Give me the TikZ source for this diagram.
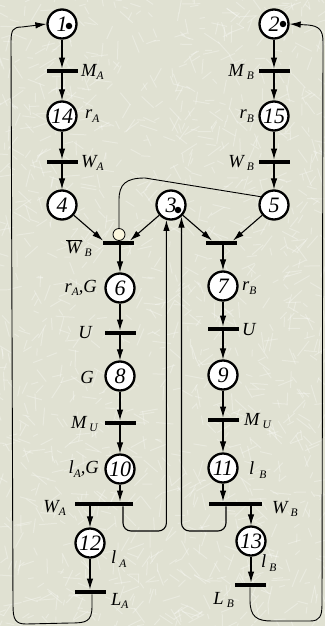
\documentclass[tikz,border=0pt]{standalone}
\usepackage{fontspec}
\setmainfont{Liberation Serif}
\usetikzlibrary{arrows.meta,calc}

\definecolor{paper}{RGB}{224,225,210}
\definecolor{cream}{RGB}{250,246,222}

\tikzset{
  place/.style={circle,draw,line width=2.3pt,fill=white,minimum size=29pt,inner sep=0pt,
                font=\fontsize{22}{22}\selectfont\itshape},
  token/.style={circle,fill=black,minimum size=6.5pt,inner sep=0pt},
  bar/.style={rectangle,fill=black,minimum height=4.5pt,minimum width=31pt,inner sep=0pt},
  arr/.style={-{Latex[length=11pt,width=6.5pt]},line width=1.1pt},
  loopline/.style={-{Latex[length=11pt,width=6.5pt]},line width=0.9pt},
  link/.style={line width=0.9pt},
  lbl/.style={font=\fontsize{18.5}{18.5}\selectfont\itshape,inner sep=0pt},
  inhib/.style={circle,draw,line width=0.8pt,fill=cream,minimum size=12pt,inner sep=0pt},
}
\newcommand\sbs[1]{\raisebox{-0.4ex}{\fontsize{11.5}{11.5}\selectfont #1}}

\begin{document}
\begin{tikzpicture}[x=1pt,y=-1pt]
% paper background with light streaks
\fill[paper] (0,0) rectangle (325,626);
\useasboundingbox (0,0) rectangle (325,626);
\begin{scope}
  \clip (0,0) rectangle (325,626);
  \pgfmathsetseed{17}
  \foreach \i in {1,...,1500}{
    \pgfmathsetmacro\xa{rnd*345-10}
    \pgfmathsetmacro\ya{rnd*646-10}
    \pgfmathsetmacro\an{rnd*360}
    \pgfmathsetmacro\ln{5+rnd*14}
    \draw[white,opacity=0.3,line width=1pt] (\xa,\ya) -- ++(\an:\ln);
  }
\end{scope}

% places
\node[place] (p1)  at (62,24)   {1\hspace{7pt}};
\node[place] (p2)  at (274,24)  {2\hspace{7pt}};
\node[place] (p14) at (62,116)  {14};
\node[place] (p15) at (274,116) {15};
\node[place] (p4)  at (62,205)  {4};
\node[place] (p3)  at (171,205) {3\hspace{6pt}};
\node[place] (p5)  at (274,205) {5};
\node[place] (p6)  at (120,288) {6};
\node[place] (p7)  at (223,286) {7};
\node[place] (p8)  at (120,376) {8};
\node[place] (p9)  at (223,375) {9};
\node[place] (p10) at (120,469) {10};
\node[place] (p11) at (223,468) {11};
\node[place] (p12) at (90,543)  {12};
\node[place] (p13) at (251,541) {13};

% tokens
\node[token] (k1) at (69,26)  {};
\node[token] (k2) at (283,24) {};
\node[token] (k3) at (178,210) {};

% transitions
\node[bar] (tMA)  at (62,71)   {};
\node[bar] (tWA)  at (62,162)  {};
\node[bar] (tMB)  at (274,71)  {};
\node[bar] (tWB)  at (274,162) {};
\node[bar] (tI)   at (118,243) {};
\node[bar] (tR)   at (221,243) {};
\node[bar] (tUL)  at (120,333) {};
\node[bar] (tUR)  at (223,329) {};
\node[bar] (tMUL) at (120,423) {};
\node[bar] (tMUR) at (223,420) {};
\node[bar,minimum width=58pt] (tWAb) at (104,504) {};
\node[bar,minimum width=53pt] (tWBb) at (235.5,504) {};
\node[bar] (tLA)  at (90,592)  {};
\node[bar] (tLB)  at (250,585) {};

% inhibitor circle
\node[inhib] (inh) at (119,234.5) {};

% left column
\draw[arr] (p1) -- (tMA.north);
\draw[arr] (tMA.south) -- (p14);
\draw[arr] (p14) -- (tWA.north);
\draw[arr] (tWA.south) -- (p4);
% right column
\draw[arr] (p2) -- (tMB.north);
\draw[arr] (tMB.south) -- (p15);
\draw[arr] (p15) -- (tWB.north);
\draw[arr] (tWB.south) -- (p5);
% into the two middle transitions
\draw[arr] (p4) -- ([xshift=-15pt]tI.north);
\draw[arr] (p3) -- ([xshift=12pt]tI.north);
\draw[arr] (p3) -- ([xshift=-9pt]tR.north);
\draw[arr] (p5) -- ([xshift=12pt]tR.north);
% inhibitor arc
\draw[link] (p5.148) -- (145,178) .. controls (126,178) and (119,184) .. (119,200) -- (inh.north);
% left branch
\draw[arr] (tI.south -| p6) -- (p6);
\draw[arr] (p6) -- (tUL.north);
\draw[arr] (tUL.south) -- (p8);
\draw[arr] (p8) -- (tMUL.north);
\draw[arr] (tMUL.south) -- (p10);
\draw[arr] (p10) -- (tWAb.north -| p10);
\draw[arr] (tWAb.south -| p12) -- (p12);
\draw[arr] (p12) -- (tLA.north);
% right branch
\draw[arr] (tR.south -| p7) -- (p7);
\draw[arr] (p7) -- (tUR.north);
\draw[arr] (tUR.south) -- (p9);
\draw[arr] (p9) -- (tMUR.north);
\draw[arr] (tMUR.south) -- (p11);
\draw[arr] (p11) -- (tWBb.north -| p11);
\draw[arr] (tWBb.south -| p13) -- (p13);
\draw[arr] (p13) -- (tLB.north -| p13);
% returns to place 3
\draw[arr,rounded corners=8pt] ([xshift=19pt]tWAb.south) |- (p3.-107 |- 0,531) -- (p3.-107);
\draw[arr,rounded corners=8pt] ([xshift=-9.5pt]tWBb.south) |- (p3.-48 |- 0,531) -- (p3.-48);
% long returns to places 1 and 2
\draw[loopline] ([xshift=2pt]tLA.south) -- (92,606) .. controls (92,622) and (86,623) .. (70,623)
  -- (26,624) .. controls (15,624) and (13,619) .. (13,605) -- (11,42)
  .. controls (11,30) and (13,27) .. (22,27) -- (p1.west);
\draw[loopline] (tLB.south) -- (250,600) .. controls (250,617) and (257,621) .. (272,621)
  -- (310,621) .. controls (320,621) and (322,616) .. (322,604) -- (323,42)
  .. controls (323,30) and (319,26) .. (308,25) -- (p2.east);

% labels
\node[lbl,anchor=west] (lMA)  at (81,72)   {M\sbs{A}};
\node[lbl,anchor=west] (lrA)  at (85,116)  {r\sbs{A}};
\node[lbl,anchor=west] (lWA)  at (81,163)  {W\sbs{A}};
\node[lbl,anchor=east] (lMB)  at (254,72)  {M\,\sbs{B}};
\node[lbl,anchor=east] (lrB)  at (254,116) {r\sbs{B}};
\node[lbl,anchor=east] (lWB)  at (254,163) {W\,\sbs{B}};
\node[lbl] (lWBbar) at (79,248) {$\overline{\mbox{W}}$\,\sbs{B}};
\node[lbl,anchor=east] (l6)   at (97,288)  {r\sbs{A},G};
\node[lbl,anchor=west] (l7)   at (242,288) {r\sbs{B}};
\node[lbl,anchor=east] (lUL)  at (92,333)  {U};
\node[lbl,anchor=west] (lUR)  at (242,330) {U};
\node[lbl,anchor=east] (l8)   at (94,377)  {G};
\node[lbl,anchor=east] (lMUL) at (98,424)  {M\,\sbs{U}};
\node[lbl,anchor=west] (lMUR) at (244,421) {M\,\sbs{U}};
\node[lbl,anchor=east] (l10)  at (99,469)  {l\sbs{A},G};
\node[lbl,anchor=west] (l11)  at (249,470) {l\;\sbs{B}};
\node[lbl,anchor=east] (lWAb) at (66,508)  {W\sbs{A}};
\node[lbl,anchor=west] (lWBb) at (272,509) {W\,\sbs{B}};
\node[lbl,anchor=west] (l12)  at (111,559) {l\,\sbs{A}};
\node[lbl,anchor=west] (l13)  at (261,563) {l\,\sbs{B}};
\node[lbl,anchor=west] (lLA)  at (111,601) {L\sbs{A}};
\node[lbl,anchor=east] (lLB)  at (234,600) {L\,\sbs{B}};
\end{tikzpicture}
\end{document}
